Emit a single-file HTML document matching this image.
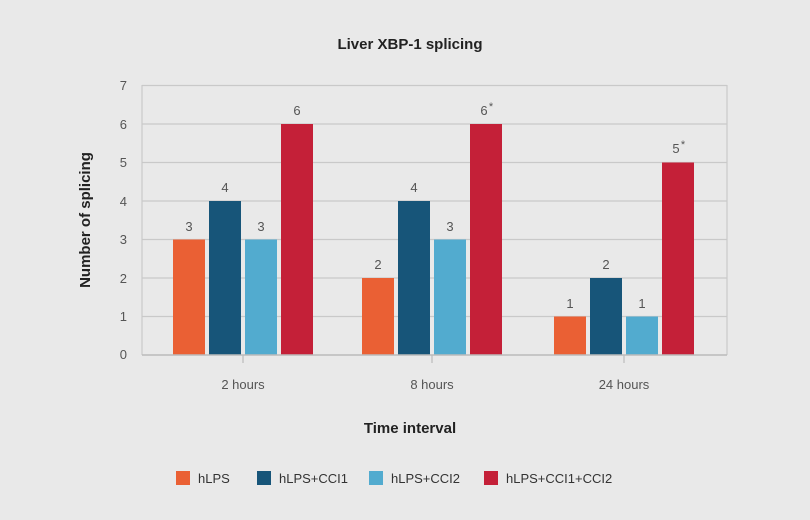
<!DOCTYPE html>
<html><head><style>
body{margin:0;background:#e9e9e9;}
svg{display:block;font-family:"Liberation Sans",sans-serif;}
</style></head><body>
<svg width="810" height="520" viewBox="0 0 810 520">
<rect width="810" height="520" fill="#e9e9e9"/>
<text x="410" y="49" text-anchor="middle" font-size="15" font-weight="bold" fill="#222">Liver XBP-1 splicing</text>
<g stroke="#c9c9c9" stroke-width="1.2">
<line x1="142" y1="85.5" x2="727" y2="85.5"/>
<line x1="142" y1="124" x2="727" y2="124"/>
<line x1="142" y1="162.5" x2="727" y2="162.5"/>
<line x1="142" y1="201" x2="727" y2="201"/>
<line x1="142" y1="239.5" x2="727" y2="239.5"/>
<line x1="142" y1="278" x2="727" y2="278"/>
<line x1="142" y1="316.5" x2="727" y2="316.5"/>
<line x1="142" y1="85" x2="142" y2="355"/>
<line x1="727" y1="85" x2="727" y2="355"/>
</g>
<g fill="#555" font-size="13" text-anchor="end">
<text x="127" y="90">7</text><text x="127" y="129">6</text><text x="127" y="167">5</text><text x="127" y="206">4</text><text x="127" y="244">3</text><text x="127" y="283">2</text><text x="127" y="321">1</text><text x="127" y="359">0</text>
</g>
<g>
<rect x="173" y="239.5" width="32" height="115.5" fill="#ea6034"/>
<rect x="209" y="201" width="32" height="154" fill="#175579"/>
<rect x="245" y="239.5" width="32" height="115.5" fill="#52abcf"/>
<rect x="281" y="124" width="32" height="231" fill="#c42038"/>
<rect x="362" y="278" width="32" height="77" fill="#ea6034"/>
<rect x="398" y="201" width="32" height="154" fill="#175579"/>
<rect x="434" y="239.5" width="32" height="115.5" fill="#52abcf"/>
<rect x="470" y="124" width="32" height="231" fill="#c42038"/>
<rect x="554" y="316.5" width="32" height="38.5" fill="#ea6034"/>
<rect x="590" y="278" width="32" height="77" fill="#175579"/>
<rect x="626" y="316.5" width="32" height="38.5" fill="#52abcf"/>
<rect x="662" y="162.5" width="32" height="192.5" fill="#c42038"/>
</g>
<line x1="142" y1="355" x2="727" y2="355" stroke="#bbb" stroke-width="1.5"/>
<g stroke="#bbb" stroke-width="1.2"><line x1="243" y1="355" x2="243" y2="363"/><line x1="432" y1="355" x2="432" y2="363"/><line x1="624" y1="355" x2="624" y2="363"/></g>
<g fill="#555" font-size="13" text-anchor="middle">
<text x="189" y="231">3</text><text x="225" y="192">4</text><text x="261" y="231">3</text><text x="297" y="115">6</text>
<text x="378" y="269">2</text><text x="414" y="192">4</text><text x="450" y="231">3</text><text x="484" y="115">6</text><text x="491" y="110" font-size="11">*</text>
<text x="570" y="308">1</text><text x="606" y="269">2</text><text x="642" y="308">1</text><text x="676" y="153">5</text><text x="683" y="148" font-size="11">*</text>
<text x="243" y="389">2 hours</text><text x="432" y="389">8 hours</text><text x="624" y="389">24 hours</text>
</g>
<text x="410" y="433" text-anchor="middle" font-size="15" font-weight="bold" fill="#222">Time interval</text>
<text transform="translate(90,220) rotate(-90)" text-anchor="middle" font-size="15" font-weight="bold" fill="#222">Number of splicing</text>
<g font-size="13" fill="#333">
<rect x="176" y="471" width="14" height="14" fill="#ea6034"/><text x="198" y="483">hLPS</text>
<rect x="257" y="471" width="14" height="14" fill="#175579"/><text x="279" y="483">hLPS+CCI1</text>
<rect x="369" y="471" width="14" height="14" fill="#52abcf"/><text x="391" y="483">hLPS+CCI2</text>
<rect x="484" y="471" width="14" height="14" fill="#c42038"/><text x="506" y="483">hLPS+CCI1+CCI2</text>
</g>
</svg>
</body></html>
